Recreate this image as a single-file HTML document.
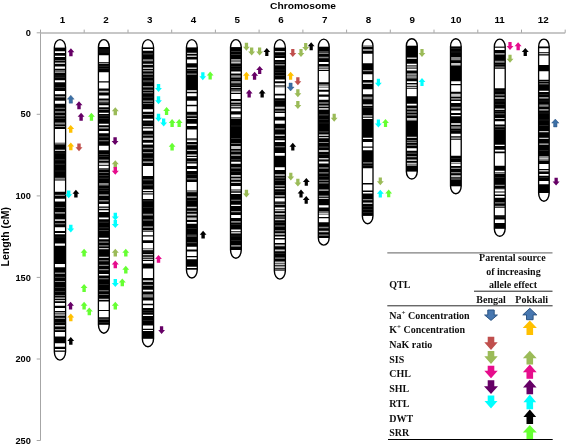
<!DOCTYPE html>
<html><head><meta charset="utf-8"><title>QTL map</title>
<style>html,body{margin:0;padding:0;background:#fff}svg{display:block}</style></head>
<body>
<svg width="567" height="445" viewBox="0 0 567 445">
<defs><filter id="bc" x="-20%" y="-5%" width="140%" height="110%"><feGaussianBlur stdDeviation="0.45"/></filter><filter id="ba" x="-5%" y="-5%" width="110%" height="110%"><feGaussianBlur stdDeviation="0.35"/></filter><filter id="bt" x="-5%" y="-5%" width="110%" height="110%"><feGaussianBlur stdDeviation="0.25"/></filter></defs>
<rect width="567" height="445" fill="#fff"/>
<g stroke="#a6a6a6" stroke-width="1" fill="none">
<line x1="40.5" y1="32.8" x2="40.5" y2="440.5"/>
<line x1="40.0" y1="32.9" x2="565.2" y2="32.9" stroke="#b4b4b4" stroke-width="1.5"/>
<line x1="40.5" y1="29.6" x2="40.5" y2="32.8"/>
<line x1="84.2" y1="29.6" x2="84.2" y2="32.8"/>
<line x1="128.0" y1="29.6" x2="128.0" y2="32.8"/>
<line x1="171.7" y1="29.6" x2="171.7" y2="32.8"/>
<line x1="215.4" y1="29.6" x2="215.4" y2="32.8"/>
<line x1="259.1" y1="29.6" x2="259.1" y2="32.8"/>
<line x1="302.9" y1="29.6" x2="302.9" y2="32.8"/>
<line x1="346.6" y1="29.6" x2="346.6" y2="32.8"/>
<line x1="390.3" y1="29.6" x2="390.3" y2="32.8"/>
<line x1="434.0" y1="29.6" x2="434.0" y2="32.8"/>
<line x1="477.8" y1="29.6" x2="477.8" y2="32.8"/>
<line x1="521.5" y1="29.6" x2="521.5" y2="32.8"/>
<line x1="565.2" y1="29.6" x2="565.2" y2="32.8"/>
<line x1="36.7" y1="32.8" x2="40.5" y2="32.8"/>
<line x1="36.7" y1="114.3" x2="40.5" y2="114.3"/>
<line x1="36.7" y1="195.9" x2="40.5" y2="195.9"/>
<line x1="36.7" y1="277.4" x2="40.5" y2="277.4"/>
<line x1="36.7" y1="359.0" x2="40.5" y2="359.0"/>
<line x1="36.7" y1="440.5" x2="40.5" y2="440.5"/>
</g>
<g font-family="'Liberation Sans', Arial, sans-serif" font-weight="bold" fill="#000" filter="url(#bt)">
<text x="303" y="8.8" font-size="9.8" text-anchor="middle" textLength="66" lengthAdjust="spacingAndGlyphs">Chromosome</text>
<text x="62.4" y="22.8" font-size="9.8" text-anchor="middle">1</text>
<text x="106.1" y="22.8" font-size="9.8" text-anchor="middle">2</text>
<text x="149.8" y="22.8" font-size="9.8" text-anchor="middle">3</text>
<text x="193.5" y="22.8" font-size="9.8" text-anchor="middle">4</text>
<text x="237.3" y="22.8" font-size="9.8" text-anchor="middle">5</text>
<text x="281.0" y="22.8" font-size="9.8" text-anchor="middle">6</text>
<text x="324.7" y="22.8" font-size="9.8" text-anchor="middle">7</text>
<text x="368.4" y="22.8" font-size="9.8" text-anchor="middle">8</text>
<text x="412.2" y="22.8" font-size="9.8" text-anchor="middle">9</text>
<text x="455.9" y="22.8" font-size="9.8" text-anchor="middle">10</text>
<text x="499.6" y="22.8" font-size="9.8" text-anchor="middle">11</text>
<text x="543.3" y="22.8" font-size="9.8" text-anchor="middle">12</text>
<text x="30.9" y="35.8" font-size="9.6" text-anchor="end" textLength="5.15" lengthAdjust="spacingAndGlyphs">0</text>
<text x="30.9" y="117.4" font-size="9.6" text-anchor="end" textLength="10.30" lengthAdjust="spacingAndGlyphs">50</text>
<text x="30.9" y="198.9" font-size="9.6" text-anchor="end" textLength="15.45" lengthAdjust="spacingAndGlyphs">100</text>
<text x="30.9" y="280.5" font-size="9.6" text-anchor="end" textLength="15.45" lengthAdjust="spacingAndGlyphs">150</text>
<text x="30.9" y="362.0" font-size="9.6" text-anchor="end" textLength="15.45" lengthAdjust="spacingAndGlyphs">200</text>
<text x="30.9" y="443.5" font-size="9.6" text-anchor="end" textLength="15.45" lengthAdjust="spacingAndGlyphs">250</text>
<text transform="translate(9.0,236.7) rotate(-90)" font-size="10.2" text-anchor="middle" textLength="59.5" lengthAdjust="spacingAndGlyphs">Length (cM)</text>
</g>
<g filter="url(#bc)">
<g>
<path d="M54.35,47.60 A5.60,8.00 0 0 1 65.55,47.60 L65.55,351.80 A5.60,8.30 0 0 1 54.35,351.80 Z" fill="#fff" stroke="#000" stroke-width="1.4"/>
<rect x="54.35" y="47.60" width="11.20" height="304.20" fill="#000"/>
<path fill="#ffffff" d="M54.95,51.14h10.00v1.76h-10.00zM54.95,55.80h10.00v1.26h-10.00zM54.95,66.49h10.00v2.27h-10.00zM54.95,80.34h10.00v1.89h-10.00zM54.95,91.03h10.00v3.15h-10.00zM54.95,100.85h10.00v3.02h-10.00zM54.95,129.04h10.00v12.96h-10.00zM54.95,149.80h10.00v1.01h-10.00zM54.95,180.38h10.00v11.33h-10.00zM54.95,198.63h10.00v2.89h-10.00zM54.95,227.20h10.00v3.78h-10.00zM54.95,232.98h10.00v1.26h-10.00zM54.95,243.56h10.00v2.27h-10.00zM54.95,264.07h10.00v3.15h-10.00zM54.95,303.08h10.00v2.77h-10.00zM54.95,308.11h10.00v1.89h-10.00zM54.95,310.00h10.00v1.01h-10.00zM54.95,332.02h10.00v4.40h-10.00zM54.95,343.35h10.00v3.40h-10.00zM54.95,349.01h10.00v1.51h-10.00z"/>
<path fill="#c4c4c4" d="M54.95,62.47h10.00v1.51h-10.00zM54.95,71.53h10.00v1.26h-10.00zM54.95,142.00h10.00v1.51h-10.00zM54.95,219.14h10.00v1.76h-10.00zM54.95,297.42h10.00v1.26h-10.00zM54.95,299.93h10.00v1.26h-10.00zM54.95,312.27h10.00v1.26h-10.00zM54.95,314.28h10.00v1.38h-10.00zM54.95,325.10h10.00v1.51h-10.00z"/>
<path fill="#858585" d="M54.95,59.95h10.00v0.88h-10.00zM54.95,70.27h10.00v1.01h-10.00zM54.95,96.07h10.00v1.51h-10.00zM54.95,107.64h10.00v1.01h-10.00zM54.95,111.17h10.00v1.51h-10.00zM54.95,115.20h10.00v1.01h-10.00zM54.95,122.49h10.00v1.89h-10.00zM54.95,126.02h10.00v1.01h-10.00zM54.95,143.51h10.00v1.01h-10.00zM54.95,177.87h10.00v1.89h-10.00zM54.95,194.85h10.00v1.26h-10.00zM54.95,212.09h10.00v1.64h-10.00zM54.95,223.17h10.00v1.01h-10.00zM54.95,272.62h10.00v1.26h-10.00zM54.95,281.06h10.00v0.88h-10.00zM54.95,294.90h10.00v0.88h-10.00zM54.95,317.80h10.00v1.26h-10.00zM54.95,328.88h10.00v1.26h-10.00z"/>
<path fill="#404040" d="M54.95,75.68h10.00v0.50h-10.00zM54.95,77.57h10.00v0.50h-10.00zM54.95,87.01h10.00v0.76h-10.00zM54.95,118.09h10.00v0.63h-10.00zM54.95,152.70h10.00v0.63h-10.00zM54.95,159.62h10.00v0.63h-10.00zM54.95,163.64h10.00v0.76h-10.00zM54.95,170.69h10.00v0.50h-10.00zM54.95,207.06h10.00v1.01h-10.00zM54.95,236.76h10.00v0.50h-10.00zM54.95,276.65h10.00v1.26h-10.00zM54.95,287.35h10.00v0.63h-10.00zM54.95,291.12h10.00v0.63h-10.00zM54.95,321.96h10.00v0.63h-10.00z"/>
</g>
<g>
<path d="M98.45,47.00 A5.40,7.40 0 0 1 109.25,47.00 L109.25,324.80 A5.40,8.40 0 0 1 98.45,324.80 Z" fill="#fff" stroke="#000" stroke-width="1.4"/>
<rect x="98.45" y="47.00" width="10.80" height="277.80" fill="#000"/>
<path fill="#ffffff" d="M99.05,55.17h9.60v6.92h-9.60zM99.05,72.16h9.60v9.19h-9.60zM99.05,82.60h9.60v3.40h-9.60zM99.05,86.00h9.60v2.52h-9.60zM99.05,95.44h9.60v3.15h-9.60zM99.05,105.13h9.60v2.01h-9.60zM99.05,112.68h9.60v1.26h-9.60zM99.05,123.75h9.60v1.51h-9.60zM99.05,131.05h9.60v2.14h-9.60zM99.05,145.78h9.60v4.40h-9.60zM99.05,165.91h9.60v2.27h-9.60zM99.05,204.04h9.60v2.52h-9.60zM99.05,210.21h9.60v1.89h-9.60zM99.05,217.51h9.60v1.64h-9.60zM99.05,237.77h9.60v1.51h-9.60zM99.05,273.88h9.60v1.51h-9.60zM99.05,301.57h9.60v8.43h-9.60zM99.05,311.01h9.60v6.29h-9.60z"/>
<path fill="#c4c4c4" d="M99.05,62.72h9.60v1.01h-9.60zM99.05,90.78h9.60v1.76h-9.60zM99.05,100.47h9.60v1.26h-9.60zM99.05,127.28h9.60v1.26h-9.60zM99.05,162.76h9.60v2.52h-9.60zM99.05,207.82h9.60v1.26h-9.60zM99.05,248.09h9.60v1.26h-9.60zM99.05,256.77h9.60v1.26h-9.60zM99.05,298.67h9.60v1.26h-9.60z"/>
<path fill="#858585" d="M99.05,102.61h9.60v0.76h-9.60zM99.05,109.28h9.60v0.63h-9.60zM99.05,140.36h9.60v1.01h-9.60zM99.05,153.96h9.60v0.63h-9.60zM99.05,159.62h9.60v1.26h-9.60zM99.05,168.68h9.60v0.76h-9.60zM99.05,171.95h9.60v0.88h-9.60zM99.05,182.90h9.60v2.52h-9.60zM99.05,194.22h9.60v1.89h-9.60zM99.05,199.89h9.60v1.64h-9.60zM99.05,241.42h9.60v1.26h-9.60zM99.05,245.19h9.60v1.26h-9.60zM99.05,260.29h9.60v1.01h-9.60zM99.05,264.70h9.60v1.26h-9.60zM99.05,269.10h9.60v1.26h-9.60zM99.05,278.16h9.60v1.01h-9.60zM99.05,290.24h9.60v1.01h-9.60zM99.05,294.27h9.60v0.76h-9.60zM99.05,318.81h9.60v0.63h-9.60z"/>
<path fill="#404040" d="M99.05,48.88h9.60v0.38h-9.60zM99.05,50.76h9.60v0.38h-9.60zM99.05,52.65h9.60v0.38h-9.60zM99.05,65.87h9.60v0.63h-9.60zM99.05,68.38h9.60v0.63h-9.60zM99.05,115.57h9.60v0.63h-9.60zM99.05,118.47h9.60v0.50h-9.60zM99.05,136.34h9.60v1.26h-9.60zM99.05,156.47h9.60v0.63h-9.60zM99.05,174.97h9.60v0.76h-9.60zM99.05,177.87h9.60v0.63h-9.60zM99.05,187.93h9.60v0.63h-9.60zM99.05,190.45h9.60v0.63h-9.60zM99.05,221.66h9.60v0.88h-9.60zM99.05,227.57h9.60v0.63h-9.60zM99.05,230.09h9.60v0.88h-9.60zM99.05,284.20h9.60v0.63h-9.60zM99.05,321.96h9.60v0.50h-9.60z"/>
</g>
<g>
<path d="M142.35,47.40 A5.60,7.80 0 0 1 153.55,47.40 L153.55,338.80 A5.60,7.90 0 0 1 142.35,338.80 Z" fill="#fff" stroke="#000" stroke-width="1.4"/>
<rect x="142.35" y="47.40" width="11.20" height="291.40" fill="#000"/>
<path fill="#ffffff" d="M142.95,48.88h10.00v1.89h-10.00zM142.95,109.28h10.00v2.52h-10.00zM142.95,118.72h10.00v1.89h-10.00zM142.95,128.53h10.00v2.14h-10.00zM142.95,142.63h10.00v1.89h-10.00zM142.95,165.91h10.00v10.07h-10.00zM142.95,189.57h10.00v1.51h-10.00zM142.95,194.60h10.00v3.40h-10.00zM142.95,198.00h10.00v1.01h-10.00zM142.95,231.73h10.00v3.40h-10.00zM142.95,236.38h10.00v3.78h-10.00zM142.95,243.05h10.00v5.29h-10.00zM142.95,260.92h10.00v2.52h-10.00zM142.95,268.47h10.00v9.44h-10.00zM142.95,289.87h10.00v1.64h-10.00zM142.95,300.56h10.00v3.15h-10.00zM142.95,305.34h10.00v2.77h-10.00zM142.95,314.85h10.00v1.26h-10.00zM142.95,325.55h10.00v3.15h-10.00zM142.95,329.95h10.00v1.01h-10.00z"/>
<path fill="#c4c4c4" d="M142.95,63.73h10.00v1.26h-10.00zM142.95,67.50h10.00v1.51h-10.00zM142.95,126.02h10.00v1.26h-10.00zM142.95,137.85h10.00v2.27h-10.00zM142.95,161.51h10.00v1.26h-10.00zM142.95,192.09h10.00v1.51h-10.00zM142.95,248.59h10.00v1.64h-10.00zM142.95,254.00h10.00v1.26h-10.00zM142.95,256.77h10.00v1.01h-10.00zM142.95,258.78h10.00v1.26h-10.00zM142.95,280.18h10.00v1.76h-10.00z"/>
<path fill="#858585" d="M142.95,59.20h10.00v2.01h-10.00zM142.95,70.02h10.00v1.51h-10.00zM142.95,73.42h10.00v1.26h-10.00zM142.95,86.00h10.00v1.51h-10.00zM142.95,89.78h10.00v1.01h-10.00zM142.95,92.29h10.00v1.01h-10.00zM142.95,100.47h10.00v1.26h-10.00zM142.95,102.99h10.00v0.88h-10.00zM142.95,113.94h10.00v1.01h-10.00zM142.95,134.45h10.00v1.26h-10.00zM142.95,147.66h10.00v1.64h-10.00zM142.95,152.07h10.00v1.26h-10.00zM142.95,213.73h10.00v1.89h-10.00zM142.95,219.39h10.00v1.01h-10.00zM142.95,226.31h10.00v1.64h-10.00zM142.95,230.09h10.00v1.26h-10.00zM142.95,284.83h10.00v1.26h-10.00zM142.95,294.27h10.00v3.15h-10.00z"/>
<path fill="#404040" d="M142.95,53.28h10.00v1.26h-10.00zM142.95,76.81h10.00v1.01h-10.00zM142.95,80.34h10.00v1.89h-10.00zM142.95,96.70h10.00v0.88h-10.00zM142.95,122.87h10.00v0.50h-10.00zM142.95,157.73h10.00v1.26h-10.00zM142.95,179.12h10.00v1.26h-10.00zM142.95,184.16h10.00v1.26h-10.00zM142.95,200.52h10.00v0.63h-10.00zM142.95,207.19h10.00v0.50h-10.00zM142.95,251.86h10.00v0.50h-10.00zM142.95,310.44h10.00v0.50h-10.00zM142.95,312.33h10.00v0.50h-10.00zM142.95,320.13h10.00v0.63h-10.00z"/>
</g>
<g>
<path d="M186.45,47.40 A5.40,7.80 0 0 1 197.25,47.40 L197.25,269.70 A5.40,8.30 0 0 1 186.45,269.70 Z" fill="#fff" stroke="#000" stroke-width="1.4"/>
<rect x="186.45" y="47.40" width="10.80" height="222.30" fill="#000"/>
<path fill="#ffffff" d="M187.05,59.57h9.60v3.78h-9.60zM187.05,90.15h9.60v1.51h-9.60zM187.05,93.17h9.60v3.15h-9.60zM187.05,100.85h9.60v3.78h-9.60zM187.05,106.13h9.60v5.66h-9.60zM187.05,123.75h9.60v2.27h-9.60zM187.05,129.42h9.60v8.81h-9.60zM187.05,140.36h9.60v1.64h-9.60zM187.05,154.58h9.60v1.26h-9.60zM187.05,157.10h9.60v1.26h-9.60zM187.05,163.39h9.60v2.52h-9.60zM187.05,169.06h9.60v1.89h-9.60zM187.05,182.02h9.60v8.43h-9.60zM187.05,221.91h9.60v1.89h-9.60zM187.05,246.83h9.60v2.77h-9.60zM187.05,251.48h9.60v2.52h-9.60zM187.05,254.00h9.60v1.89h-9.60zM187.05,257.15h9.60v2.14h-9.60zM187.05,266.84h9.60v1.26h-9.60z"/>
<path fill="#c4c4c4" d="M187.05,52.65h9.60v1.26h-9.60zM187.05,55.55h9.60v1.51h-9.60zM187.05,67.50h9.60v1.51h-9.60zM187.05,118.09h9.60v0.88h-9.60zM187.05,149.80h9.60v1.26h-9.60zM187.05,206.81h9.60v1.51h-9.60zM187.05,213.73h9.60v1.89h-9.60zM187.05,217.51h9.60v2.52h-9.60z"/>
<path fill="#858585" d="M187.05,73.42h9.60v1.26h-9.60zM187.05,114.69h9.60v1.51h-9.60zM187.05,138.60h9.60v0.88h-9.60zM187.05,143.89h9.60v1.26h-9.60zM187.05,161.13h9.60v1.01h-9.60zM187.05,178.24h9.60v1.26h-9.60zM187.05,190.45h9.60v1.89h-9.60zM187.05,196.36h9.60v1.64h-9.60zM187.05,210.84h9.60v1.26h-9.60z"/>
<path fill="#404040" d="M187.05,70.27h9.60v0.63h-9.60zM187.05,174.47h9.60v0.50h-9.60zM187.05,199.89h9.60v0.63h-9.60zM187.05,227.95h9.60v0.50h-9.60zM187.05,234.49h9.60v2.52h-9.60zM187.05,242.04h9.60v1.26h-9.60z"/>
</g>
<g>
<path d="M230.55,47.10 A5.35,7.50 0 0 1 241.25,47.10 L241.25,250.00 A5.35,8.30 0 0 1 230.55,250.00 Z" fill="#fff" stroke="#000" stroke-width="1.4"/>
<rect x="230.55" y="47.10" width="10.70" height="202.90" fill="#000"/>
<path fill="#ffffff" d="M231.15,71.49h9.50v2.01h-9.50zM231.15,86.97h9.50v0.88h-9.50zM231.15,93.89h9.50v5.03h-9.50zM231.15,108.61h9.50v2.52h-9.50zM231.15,114.40h9.50v2.77h-9.50zM231.15,161.84h9.50v1.89h-9.50zM231.15,186.00h9.50v2.89h-9.50zM231.15,192.67h9.50v1.26h-9.50zM231.15,204.63h9.50v1.26h-9.50zM231.15,215.07h9.50v3.02h-9.50zM231.15,229.55h9.50v1.76h-9.50z"/>
<path fill="#c4c4c4" d="M231.15,59.28h9.50v1.26h-9.50zM231.15,61.80h9.50v1.64h-9.50zM231.15,76.27h9.50v1.26h-9.50zM231.15,82.18h9.50v1.01h-9.50zM231.15,90.74h9.50v1.01h-9.50zM231.15,92.00h9.50v1.01h-9.50zM231.15,101.06h9.50v1.64h-9.50zM231.15,103.96h9.50v0.63h-9.50zM231.15,105.84h9.50v1.51h-9.50zM231.15,146.11h9.50v1.89h-9.50zM231.15,148.00h9.50v1.01h-9.50zM231.15,154.54h9.50v1.26h-9.50zM231.15,175.06h9.50v1.64h-9.50zM231.15,178.20h9.50v1.51h-9.50zM231.15,181.73h9.50v1.26h-9.50zM231.15,231.94h9.50v1.64h-9.50z"/>
<path fill="#858585" d="M231.15,60.54h9.50v1.26h-9.50zM231.15,75.26h9.50v0.76h-9.50zM231.15,81.05h9.50v0.88h-9.50zM231.15,89.48h9.50v0.88h-9.50zM231.15,117.42h9.50v1.64h-9.50zM231.15,142.97h9.50v0.88h-9.50zM231.15,150.52h9.50v1.26h-9.50zM231.15,167.13h9.50v1.26h-9.50zM231.15,188.90h9.50v2.52h-9.50zM231.15,199.85h9.50v1.01h-9.50zM231.15,210.92h9.50v1.26h-9.50zM231.15,220.99h9.50v1.64h-9.50zM231.15,244.90h9.50v1.89h-9.50z"/>
<path fill="#404040" d="M231.15,51.35h9.50v0.76h-9.50zM231.15,54.00h9.50v0.63h-9.50zM231.15,65.95h9.50v0.63h-9.50zM231.15,68.72h9.50v0.63h-9.50zM231.15,79.42h9.50v0.63h-9.50zM231.15,84.83h9.50v0.63h-9.50zM231.15,125.73h9.50v0.50h-9.50zM231.15,137.93h9.50v0.88h-9.50zM231.15,159.33h9.50v1.01h-9.50zM231.15,171.03h9.50v0.50h-9.50zM231.15,224.51h9.50v0.50h-9.50zM231.15,235.84h9.50v0.50h-9.50zM231.15,240.24h9.50v0.50h-9.50z"/>
</g>
<g>
<path d="M274.35,47.60 A5.50,8.00 0 0 1 285.35,47.60 L285.35,270.80 A5.50,8.30 0 0 1 274.35,270.80 Z" fill="#fff" stroke="#000" stroke-width="1.4"/>
<rect x="274.35" y="47.60" width="11.00" height="223.20" fill="#000"/>
<path fill="#ffffff" d="M274.95,58.02h9.80v1.89h-9.80zM274.95,79.42h9.80v1.89h-9.80zM274.95,83.19h9.80v1.89h-9.80zM274.95,87.26h9.80v6.54h-9.80zM274.95,95.44h9.80v2.89h-9.80zM274.95,113.06h9.80v3.78h-9.80zM274.95,120.61h9.80v3.15h-9.80zM274.95,140.36h9.80v1.64h-9.80zM274.95,153.03h9.80v2.77h-9.80zM274.95,167.13h9.80v2.89h-9.80zM274.95,198.34h9.80v3.15h-9.80zM274.95,207.52h9.80v1.76h-9.80zM274.95,236.47h9.80v1.51h-9.80zM274.95,239.49h9.80v3.52h-9.80z"/>
<path fill="#c4c4c4" d="M274.95,51.10h9.80v1.26h-9.80zM274.95,86.59h9.80v0.76h-9.80zM274.95,106.76h9.80v1.89h-9.80zM274.95,134.45h9.80v1.64h-9.80zM274.95,174.18h9.80v1.51h-9.80zM274.95,188.02h9.80v1.26h-9.80zM274.95,195.19h9.80v1.26h-9.80zM274.95,209.66h9.80v1.64h-9.80zM274.95,213.06h9.80v1.64h-9.80zM274.95,218.85h9.80v1.51h-9.80zM274.95,233.20h9.80v1.64h-9.80zM274.95,244.52h9.80v1.64h-9.80zM274.95,249.56h9.80v1.64h-9.80zM274.95,261.39h9.80v1.89h-9.80zM274.95,263.66h9.80v1.51h-9.80zM274.95,266.18h9.80v2.14h-9.80z"/>
<path fill="#858585" d="M274.95,63.94h9.80v1.64h-9.80zM274.95,85.33h9.80v1.01h-9.80zM274.95,110.54h9.80v1.26h-9.80zM274.95,128.16h9.80v1.26h-9.80zM274.95,146.36h9.80v1.01h-9.80zM274.95,177.57h9.80v0.63h-9.80zM274.95,185.12h9.80v1.26h-9.80zM274.95,202.74h9.80v0.63h-9.80zM274.95,204.00h9.80v1.01h-9.80zM274.95,216.58h9.80v1.01h-9.80zM274.95,225.39h9.80v1.01h-9.80zM274.95,230.18h9.80v1.01h-9.80zM274.95,257.48h9.80v1.26h-9.80zM274.95,269.20h9.80v1.26h-9.80z"/>
<path fill="#404040" d="M274.95,54.88h9.80v0.63h-9.80zM274.95,61.80h9.80v0.63h-9.80zM274.95,69.73h9.80v0.63h-9.80zM274.95,72.24h9.80v0.63h-9.80zM274.95,75.01h9.80v0.63h-9.80zM274.95,100.60h9.80v0.50h-9.80zM274.95,137.97h9.80v0.50h-9.80zM274.95,180.09h9.80v0.63h-9.80zM274.95,191.42h9.80v0.63h-9.80zM274.95,222.00h9.80v0.50h-9.80zM274.95,253.46h9.80v0.50h-9.80z"/>
</g>
<g>
<path d="M318.35,46.70 A5.40,7.60 0 0 1 329.15,46.70 L329.15,238.00 A5.40,7.10 0 0 1 318.35,238.00 Z" fill="#fff" stroke="#000" stroke-width="1.4"/>
<rect x="318.35" y="46.70" width="10.80" height="191.30" fill="#000"/>
<path fill="#ffffff" d="M318.95,62.09h9.60v1.89h-9.60zM318.95,70.90h9.60v11.33h-9.60zM318.95,87.51h9.60v2.27h-9.60zM318.95,91.66h9.60v2.89h-9.60zM318.95,96.70h9.60v3.15h-9.60zM318.95,134.45h9.60v1.26h-9.60zM318.95,150.18h9.60v1.64h-9.60zM318.95,161.51h9.60v1.89h-9.60zM318.95,205.30h9.60v2.14h-9.60zM318.95,214.61h9.60v2.27h-9.60zM318.95,218.13h9.60v4.03h-9.60z"/>
<path fill="#c4c4c4" d="M318.95,66.49h9.60v1.26h-9.60zM318.95,68.38h9.60v1.64h-9.60zM318.95,86.00h9.60v1.26h-9.60zM318.95,102.61h9.60v1.01h-9.60zM318.95,105.51h9.60v1.26h-9.60zM318.95,108.02h9.60v1.64h-9.60zM318.95,136.97h9.60v1.26h-9.60zM318.95,158.11h9.60v1.51h-9.60zM318.95,189.57h9.60v1.26h-9.60zM318.95,198.00h9.60v1.01h-9.60zM318.95,212.85h9.60v1.51h-9.60zM318.95,230.72h9.60v1.51h-9.60z"/>
<path fill="#858585" d="M318.95,51.39h9.60v1.01h-9.60zM318.95,52.90h9.60v1.01h-9.60zM318.95,56.68h9.60v1.64h-9.60zM318.95,84.36h9.60v1.64h-9.60zM318.95,142.00h9.60v1.01h-9.60zM318.95,167.17h9.60v1.51h-9.60zM318.95,172.20h9.60v1.26h-9.60zM318.95,179.75h9.60v1.01h-9.60zM318.95,182.27h9.60v1.26h-9.60zM318.95,195.48h9.60v1.89h-9.60zM318.95,211.21h9.60v1.64h-9.60zM318.95,226.69h9.60v1.51h-9.60zM318.95,234.49h9.60v1.26h-9.60z"/>
<path fill="#404040" d="M318.95,114.31h9.60v1.26h-9.60zM318.95,119.10h9.60v0.50h-9.60zM318.95,122.87h9.60v0.50h-9.60zM318.95,131.30h9.60v1.26h-9.60zM318.95,146.40h9.60v1.26h-9.60zM318.95,154.33h9.60v0.50h-9.60zM318.95,176.36h9.60v0.50h-9.60z"/>
</g>
<g>
<path d="M362.35,45.70 A5.30,6.60 0 0 1 372.95,45.70 L372.95,215.90 A5.30,7.80 0 0 1 362.35,215.90 Z" fill="#fff" stroke="#000" stroke-width="1.4"/>
<rect x="362.35" y="45.70" width="10.60" height="170.20" fill="#000"/>
<path fill="#ffffff" d="M362.95,53.66h9.40v9.69h-9.40zM362.95,74.30h9.40v5.79h-9.40zM362.95,89.15h9.40v5.03h-9.40zM362.95,117.71h9.40v1.26h-9.40zM362.95,137.85h9.40v1.26h-9.40zM362.95,142.00h9.40v4.40h-9.40zM362.95,147.66h9.40v2.52h-9.40zM362.95,168.18h9.40v14.72h-9.40zM362.95,184.53h9.40v5.91h-9.40zM362.95,192.09h9.40v1.51h-9.40z"/>
<path fill="#c4c4c4" d="M362.95,49.13h9.40v1.64h-9.40zM362.95,82.60h9.40v1.51h-9.40zM362.95,104.25h9.40v1.64h-9.40zM362.95,115.20h9.40v1.64h-9.40zM362.95,202.40h9.40v1.64h-9.40z"/>
<path fill="#858585" d="M362.95,45.73h9.40v1.26h-9.40zM362.95,70.02h9.40v1.26h-9.40zM362.95,96.70h9.40v2.52h-9.40zM362.95,162.13h9.40v1.26h-9.40zM362.95,199.01h9.40v1.26h-9.40z"/>
<path fill="#404040" d="M362.95,107.14h9.40v0.50h-9.40zM362.95,165.03h9.40v0.50h-9.40zM362.95,205.93h9.40v0.50h-9.40zM362.95,209.07h9.40v0.50h-9.40zM362.95,212.22h9.40v0.50h-9.40z"/>
</g>
<g>
<path d="M406.35,45.70 A5.45,7.00 0 0 1 417.25,45.70 L417.25,171.60 A5.45,7.40 0 0 1 406.35,171.60 Z" fill="#fff" stroke="#000" stroke-width="1.4"/>
<rect x="406.35" y="45.70" width="10.90" height="125.90" fill="#000"/>
<path fill="#ffffff" d="M406.95,63.73h9.70v1.51h-9.70zM406.95,68.76h9.70v1.76h-9.70zM406.95,81.34h9.70v1.76h-9.70zM406.95,88.77h9.70v7.55h-9.70zM406.95,103.87h9.70v1.64h-9.70zM406.95,148.29h9.70v2.52h-9.70zM406.95,164.40h9.70v1.01h-9.70z"/>
<path fill="#c4c4c4" d="M406.95,57.43h9.70v1.51h-9.70zM406.95,73.42h9.70v1.26h-9.70zM406.95,84.36h9.70v1.64h-9.70zM406.95,86.63h9.70v1.26h-9.70zM406.95,118.09h9.70v2.52h-9.70zM406.95,136.71h9.70v1.26h-9.70zM406.95,159.62h9.70v1.26h-9.70zM406.95,162.76h9.70v1.26h-9.70z"/>
<path fill="#858585" d="M406.95,65.49h9.70v2.89h-9.70zM406.95,75.30h9.70v3.15h-9.70zM406.95,108.02h9.70v1.64h-9.70zM406.95,111.17h9.70v1.51h-9.70zM406.95,114.31h9.70v1.26h-9.70zM406.95,140.36h9.70v1.01h-9.70zM406.95,142.00h9.70v1.01h-9.70zM406.95,144.77h9.70v1.01h-9.70zM406.95,152.70h9.70v0.88h-9.70zM406.95,156.09h9.70v1.26h-9.70z"/>
</g>
<g>
<path d="M450.55,46.40 A5.30,7.70 0 0 1 461.15,46.40 L461.15,186.30 A5.30,7.40 0 0 1 450.55,186.30 Z" fill="#fff" stroke="#000" stroke-width="1.4"/>
<rect x="450.55" y="46.40" width="10.60" height="139.90" fill="#000"/>
<path fill="#ffffff" d="M451.15,81.34h9.40v2.77h-9.40zM451.15,85.37h9.40v0.63h-9.40zM451.15,86.00h9.40v5.66h-9.40zM451.15,101.10h9.40v1.89h-9.40zM451.15,110.54h9.40v2.52h-9.40zM451.15,114.94h9.40v1.26h-9.40zM451.15,133.82h9.40v2.52h-9.40zM451.15,139.86h9.40v2.14h-9.40zM451.15,142.00h9.40v13.84h-9.40zM451.15,163.64h9.40v2.27h-9.40z"/>
<path fill="#c4c4c4" d="M451.15,62.97h9.40v2.52h-9.40zM451.15,93.80h9.40v2.89h-9.40zM451.15,123.12h9.40v1.89h-9.40zM451.15,137.60h9.40v1.26h-9.40zM451.15,161.88h9.40v1.51h-9.40zM451.15,175.35h9.40v1.89h-9.40z"/>
<path fill="#858585" d="M451.15,57.06h9.40v3.15h-9.40zM451.15,97.96h9.40v1.89h-9.40zM451.15,106.76h9.40v1.64h-9.40zM451.15,126.27h9.40v2.52h-9.40zM451.15,167.80h9.40v1.26h-9.40zM451.15,171.95h9.40v1.26h-9.40zM451.15,178.49h9.40v1.01h-9.40z"/>
<path fill="#404040" d="M451.15,48.62h9.40v0.50h-9.40zM451.15,51.77h9.40v0.50h-9.40zM451.15,130.42h9.40v0.50h-9.40zM451.15,158.11h9.40v0.50h-9.40z"/>
</g>
<g>
<path d="M494.35,46.60 A5.40,7.50 0 0 1 505.15,46.60 L505.15,228.80 A5.40,7.50 0 0 1 494.35,228.80 Z" fill="#fff" stroke="#000" stroke-width="1.4"/>
<rect x="494.35" y="46.60" width="10.80" height="182.20" fill="#000"/>
<path fill="#ffffff" d="M494.95,47.87h9.60v2.01h-9.60zM494.95,68.76h9.60v17.24h-9.60zM494.95,86.00h9.60v2.27h-9.60zM494.95,121.24h9.60v3.15h-9.60zM494.95,144.77h9.60v1.26h-9.60zM494.95,149.80h9.60v1.64h-9.60zM494.95,153.33h9.60v12.33h-9.60zM494.95,170.69h9.60v1.51h-9.60zM494.95,190.00h9.60v1.51h-9.60zM494.95,192.52h9.60v1.89h-9.60zM494.95,196.04h9.60v1.76h-9.60zM494.95,207.87h9.60v7.30h-9.60zM494.95,219.57h9.60v3.40h-9.60z"/>
<path fill="#c4c4c4" d="M494.95,53.28h9.60v1.26h-9.60zM494.95,97.33h9.60v1.51h-9.60zM494.95,108.40h9.60v1.51h-9.60zM494.95,118.09h9.60v0.88h-9.60zM494.95,188.81h9.60v1.26h-9.60z"/>
<path fill="#858585" d="M494.95,60.83h9.60v1.89h-9.60zM494.95,66.49h9.60v1.26h-9.60zM494.95,94.18h9.60v1.26h-9.60zM494.95,113.43h9.60v0.88h-9.60zM494.95,126.27h9.60v1.01h-9.60zM494.95,172.45h9.60v1.64h-9.60zM494.95,184.79h9.60v1.26h-9.60zM494.95,202.33h9.60v1.26h-9.60zM494.95,205.73h9.60v1.26h-9.60z"/>
<path fill="#404040" d="M494.95,64.36h9.60v0.50h-9.60zM494.95,90.78h9.60v0.50h-9.60zM494.95,100.85h9.60v0.50h-9.60zM494.95,104.62h9.60v0.50h-9.60zM494.95,111.55h9.60v0.50h-9.60zM494.95,129.16h9.60v0.50h-9.60zM494.95,177.61h9.60v0.50h-9.60zM494.95,216.80h9.60v0.50h-9.60z"/>
</g>
<g>
<path d="M538.65,46.50 A5.25,7.40 0 0 1 549.15,46.50 L549.15,193.00 A5.25,8.20 0 0 1 538.65,193.00 Z" fill="#fff" stroke="#000" stroke-width="1.4"/>
<rect x="538.65" y="46.50" width="10.50" height="146.50" fill="#000"/>
<path fill="#ffffff" d="M539.25,48.25h9.30v3.78h-9.30zM539.25,55.55h9.30v9.44h-9.30zM539.25,71.28h9.30v8.43h-9.30zM539.25,90.78h9.30v1.26h-9.30zM539.25,164.02h9.30v5.03h-9.30zM539.25,174.09h9.30v1.64h-9.30zM539.25,181.01h9.30v3.15h-9.30z"/>
<path fill="#c4c4c4" d="M539.25,52.65h9.30v1.51h-9.30zM539.25,83.48h9.30v0.88h-9.30zM539.25,97.33h9.30v1.26h-9.30zM539.25,109.28h9.30v1.26h-9.30zM539.25,131.05h9.30v1.26h-9.30zM539.25,137.85h9.30v1.26h-9.30zM539.25,143.51h9.30v1.26h-9.30zM539.25,157.35h9.30v1.64h-9.30zM539.25,169.94h9.30v1.64h-9.30z"/>
<path fill="#858585" d="M539.25,80.97h9.30v0.88h-9.30zM539.25,104.62h9.30v2.14h-9.30zM539.25,156.09h9.30v1.26h-9.30zM539.25,158.99h9.30v1.64h-9.30z"/>
<path fill="#404040" d="M539.25,93.93h9.30v0.50h-9.30zM539.25,100.85h9.30v0.50h-9.30zM539.25,112.80h9.30v0.50h-9.30zM539.25,119.73h9.30v0.50h-9.30zM539.25,125.39h9.30v0.50h-9.30zM539.25,149.93h9.30v0.50h-9.30zM539.25,177.61h9.30v0.50h-9.30z"/>
</g>
</g>
<g filter="url(#ba)">
<polygon fill="#660066" points="70.9,48.2 74.4,52.2 72.6,52.2 72.6,56.2 69.2,56.2 69.2,52.2 67.5,52.2"/>
<polygon fill="#3B6FA6" stroke="#2E5580" stroke-width="0.4" points="70.8,95.2 74.2,99.2 72.5,99.2 72.5,103.2 69.1,103.2 69.1,99.2 67.3,99.2"/>
<polygon fill="#660066" points="79.0,101.3 82.5,105.3 80.7,105.3 80.7,109.2 77.3,109.2 77.3,105.3 75.5,105.3"/>
<polygon fill="#660066" points="81.1,112.8 84.5,116.8 82.8,116.8 82.8,120.8 79.4,120.8 79.4,116.8 77.6,116.8"/>
<polygon fill="#66FF33" points="91.4,112.8 94.9,116.8 93.1,116.8 93.1,120.7 89.8,120.7 89.8,116.8 88.0,116.8"/>
<polygon fill="#FFC000" points="70.7,125.0 74.2,128.9 72.4,128.9 72.4,132.8 69.0,132.8 69.0,128.9 67.2,128.9"/>
<polygon fill="#FFC000" points="70.8,142.5 74.2,146.5 72.5,146.5 72.5,150.3 69.1,150.3 69.1,146.5 67.3,146.5"/>
<polygon fill="#C0504D" points="79.0,151.2 82.5,147.2 80.7,147.2 80.7,143.4 77.3,143.4 77.3,147.2 75.5,147.2"/>
<polygon fill="#00FFFF" points="68.7,198.3 72.2,194.3 70.4,194.3 70.4,190.5 67.0,190.5 67.0,194.3 65.2,194.3"/>
<polygon fill="#000000" points="75.9,189.7 79.4,193.7 77.6,193.7 77.6,197.5 74.2,197.5 74.2,193.7 72.5,193.7"/>
<polygon fill="#00FFFF" points="70.8,232.5 74.2,228.5 72.5,228.5 72.5,224.7 69.1,224.7 69.1,228.5 67.3,228.5"/>
<polygon fill="#66FF33" points="84.1,248.7 87.5,252.7 85.8,252.7 85.8,256.6 82.4,256.6 82.4,252.7 80.6,252.7"/>
<polygon fill="#66FF33" points="84.1,284.1 87.5,288.1 85.8,288.1 85.8,291.9 82.4,291.9 82.4,288.1 80.6,288.1"/>
<polygon fill="#660066" points="70.6,301.7 74.0,305.7 72.2,305.7 72.2,309.6 68.9,309.6 68.9,305.7 67.1,305.7"/>
<polygon fill="#66FF33" points="84.1,301.7 87.5,305.7 85.8,305.7 85.8,309.6 82.4,309.6 82.4,305.7 80.6,305.7"/>
<polygon fill="#66FF33" points="89.3,307.4 92.8,311.4 91.0,311.4 91.0,315.3 87.6,315.3 87.6,311.4 85.8,311.4"/>
<polygon fill="#FFC000" points="70.8,313.4 74.2,317.4 72.5,317.4 72.5,321.3 69.1,321.3 69.1,317.4 67.3,317.4"/>
<polygon fill="#000000" points="70.8,336.9 74.2,340.9 72.5,340.9 72.5,344.8 69.1,344.8 69.1,340.9 67.3,340.9"/>
<polygon fill="#9BBB59" points="115.3,107.2 118.8,111.2 117.0,111.2 117.0,115.2 113.6,115.2 113.6,111.2 111.8,111.2"/>
<polygon fill="#660066" points="115.1,145.1 118.5,141.1 116.8,141.1 116.8,137.2 113.4,137.2 113.4,141.1 111.6,141.1"/>
<polygon fill="#9BBB59" points="115.3,160.2 118.8,164.2 117.0,164.2 117.0,168.1 113.6,168.1 113.6,164.2 111.8,164.2"/>
<polygon fill="#E6088C" points="115.3,174.8 118.8,170.8 117.0,170.8 117.0,166.9 113.6,166.9 113.6,170.8 111.8,170.8"/>
<polygon fill="#00FFFF" points="115.3,220.5 118.8,216.5 117.0,216.5 117.0,212.7 113.6,212.7 113.6,216.5 111.8,216.5"/>
<polygon fill="#00FFFF" points="115.3,227.9 118.8,223.9 117.0,223.9 117.0,220.1 113.6,220.1 113.6,223.9 111.8,223.9"/>
<polygon fill="#9BBB59" points="115.3,248.7 118.8,252.7 117.0,252.7 117.0,256.6 113.6,256.6 113.6,252.7 111.8,252.7"/>
<polygon fill="#66FF33" points="125.8,248.7 129.2,252.7 127.5,252.7 127.5,256.6 124.1,256.6 124.1,252.7 122.3,252.7"/>
<polygon fill="#E6088C" points="115.3,260.4 118.8,264.4 117.0,264.4 117.0,268.2 113.6,268.2 113.6,264.4 111.8,264.4"/>
<polygon fill="#66FF33" points="125.8,265.7 129.2,269.7 127.5,269.7 127.5,273.6 124.1,273.6 124.1,269.7 122.3,269.7"/>
<polygon fill="#00FFFF" points="115.3,286.9 118.8,282.9 117.0,282.9 117.0,279.1 113.6,279.1 113.6,282.9 111.8,282.9"/>
<polygon fill="#66FF33" points="122.3,278.4 125.8,282.4 124.0,282.4 124.0,286.3 120.6,286.3 120.6,282.4 118.8,282.4"/>
<polygon fill="#66FF33" points="115.3,301.7 118.8,305.7 117.0,305.7 117.0,309.6 113.6,309.6 113.6,305.7 111.8,305.7"/>
<polygon fill="#00FFFF" points="158.5,92.0 161.9,88.0 160.2,88.0 160.2,84.0 156.8,84.0 156.8,88.0 155.1,88.0"/>
<polygon fill="#00FFFF" points="158.5,104.2 161.9,100.2 160.2,100.2 160.2,96.2 156.8,96.2 156.8,100.2 155.1,100.2"/>
<polygon fill="#66FF33" points="166.6,107.0 170.0,111.0 168.2,111.0 168.2,114.9 164.9,114.9 164.9,111.0 163.2,111.0"/>
<polygon fill="#00FFFF" points="158.5,121.8 161.9,117.8 160.2,117.8 160.2,113.8 156.8,113.8 156.8,117.8 155.1,117.8"/>
<polygon fill="#00FFFF" points="163.7,126.5 167.1,122.5 165.3,122.5 165.3,118.5 162.0,118.5 162.0,122.5 160.2,122.5"/>
<polygon fill="#66FF33" points="172.1,119.0 175.5,123.0 173.8,123.0 173.8,126.9 170.4,126.9 170.4,123.0 168.7,123.0"/>
<polygon fill="#66FF33" points="179.2,119.0 182.6,123.0 180.8,123.0 180.8,126.9 177.5,126.9 177.5,123.0 175.8,123.0"/>
<polygon fill="#66FF33" points="172.1,142.7 175.5,146.7 173.8,146.7 173.8,150.5 170.4,150.5 170.4,146.7 168.7,146.7"/>
<polygon fill="#E6088C" points="158.5,254.9 161.9,258.9 160.2,258.9 160.2,262.8 156.8,262.8 156.8,258.9 155.1,258.9"/>
<polygon fill="#660066" points="161.6,334.1 165.0,330.1 163.2,330.1 163.2,326.2 159.9,326.2 159.9,330.1 158.2,330.1"/>
<polygon fill="#00FFFF" points="202.8,80.2 206.2,76.2 204.5,76.2 204.5,72.3 201.2,72.3 201.2,76.2 199.4,76.2"/>
<polygon fill="#66FF33" points="210.2,71.6 213.6,75.6 211.8,75.6 211.8,79.5 208.5,79.5 208.5,75.6 206.8,75.6"/>
<polygon fill="#000000" points="203.1,230.8 206.5,234.8 204.8,234.8 204.8,238.6 201.4,238.6 201.4,234.8 199.7,234.8"/>
<polygon fill="#9BBB59" points="246.4,50.8 249.8,46.8 248.1,46.8 248.1,42.8 244.8,42.8 244.8,46.8 243.0,46.8"/>
<polygon fill="#9BBB59" points="251.7,55.4 255.1,51.4 253.3,51.4 253.3,47.4 250.0,47.4 250.0,51.4 248.2,51.4"/>
<polygon fill="#9BBB59" points="259.6,55.4 263.1,51.4 261.2,51.4 261.2,47.4 258.0,47.4 258.0,51.4 256.2,51.4"/>
<polygon fill="#000000" points="266.8,48.0 270.2,52.0 268.4,52.0 268.4,56.0 265.2,56.0 265.2,52.0 263.4,52.0"/>
<polygon fill="#FFC000" points="246.4,71.8 249.8,75.8 248.1,75.8 248.1,79.8 244.8,79.8 244.8,75.8 243.0,75.8"/>
<polygon fill="#660066" points="254.6,71.8 258.1,75.8 256.2,75.8 256.2,79.8 252.9,79.8 252.9,75.8 251.2,75.8"/>
<polygon fill="#660066" points="259.7,66.0 263.1,70.0 261.3,70.0 261.3,73.9 258.1,73.9 258.1,70.0 256.2,70.0"/>
<polygon fill="#660066" points="249.2,89.5 252.6,93.5 250.8,93.5 250.8,97.4 247.5,97.4 247.5,93.5 245.8,93.5"/>
<polygon fill="#000000" points="262.1,89.5 265.6,93.5 263.8,93.5 263.8,97.4 260.5,97.4 260.5,93.5 258.7,93.5"/>
<polygon fill="#9BBB59" points="246.4,197.5 249.8,193.5 248.1,193.5 248.1,189.7 244.8,189.7 244.8,193.5 243.0,193.5"/>
<polygon fill="#C0504D" points="292.8,57.0 296.2,53.0 294.4,53.0 294.4,49.0 291.2,49.0 291.2,53.0 289.4,53.0"/>
<polygon fill="#9BBB59" points="301.0,57.0 304.4,53.0 302.6,53.0 302.6,49.0 299.4,49.0 299.4,53.0 297.6,53.0"/>
<polygon fill="#9BBB59" points="305.7,51.0 309.1,47.0 307.3,47.0 307.3,43.0 304.1,43.0 304.1,47.0 302.2,47.0"/>
<polygon fill="#000000" points="311.2,42.2 314.6,46.2 312.8,46.2 312.8,50.2 309.6,50.2 309.6,46.2 307.8,46.2"/>
<polygon fill="#FFC000" points="290.6,71.8 294.1,75.8 292.2,75.8 292.2,79.8 289.0,79.8 289.0,75.8 287.2,75.8"/>
<polygon fill="#C0504D" points="297.9,85.2 301.3,81.2 299.5,81.2 299.5,77.3 296.2,77.3 296.2,81.2 294.4,81.2"/>
<polygon fill="#3B6FA6" stroke="#2E5580" stroke-width="0.4" points="290.6,91.0 294.1,87.0 292.2,87.0 292.2,83.0 289.0,83.0 289.0,87.0 287.2,87.0"/>
<polygon fill="#9BBB59" points="297.9,97.2 301.3,93.2 299.5,93.2 299.5,89.2 296.2,89.2 296.2,93.2 294.4,93.2"/>
<polygon fill="#9BBB59" points="297.9,108.9 301.3,104.9 299.5,104.9 299.5,101.0 296.2,101.0 296.2,104.9 294.4,104.9"/>
<polygon fill="#000000" points="292.8,142.7 296.2,146.7 294.4,146.7 294.4,150.5 291.2,150.5 291.2,146.7 289.4,146.7"/>
<polygon fill="#9BBB59" points="290.8,180.5 294.2,176.5 292.4,176.5 292.4,172.7 289.2,172.7 289.2,176.5 287.4,176.5"/>
<polygon fill="#9BBB59" points="297.9,186.5 301.3,182.5 299.5,182.5 299.5,178.7 296.2,178.7 296.2,182.5 294.4,182.5"/>
<polygon fill="#000000" points="306.3,177.9 309.8,181.9 307.9,181.9 307.9,185.8 304.7,185.8 304.7,181.9 302.9,181.9"/>
<polygon fill="#000000" points="301.0,189.6 304.4,193.6 302.6,193.6 302.6,197.4 299.4,197.4 299.4,193.6 297.6,193.6"/>
<polygon fill="#000000" points="306.2,195.9 309.6,199.9 307.8,199.9 307.8,203.8 304.6,203.8 304.6,199.9 302.8,199.9"/>
<polygon fill="#9BBB59" points="334.2,121.8 337.6,117.8 335.8,117.8 335.8,113.8 332.6,113.8 332.6,117.8 330.8,117.8"/>
<polygon fill="#00FFFF" points="378.4,86.8 381.8,82.8 380.0,82.8 380.0,78.8 376.8,78.8 376.8,82.8 374.9,82.8"/>
<polygon fill="#00FFFF" points="378.4,127.5 381.8,123.5 380.0,123.5 380.0,119.6 376.8,119.6 376.8,123.5 374.9,123.5"/>
<polygon fill="#66FF33" points="385.5,119.0 388.9,123.0 387.1,123.0 387.1,127.0 383.9,127.0 383.9,123.0 382.1,123.0"/>
<polygon fill="#9BBB59" points="380.3,185.2 383.8,181.2 381.9,181.2 381.9,177.4 378.7,177.4 378.7,181.2 376.9,181.2"/>
<polygon fill="#00FFFF" points="380.3,189.7 383.8,193.7 381.9,193.7 381.9,197.5 378.7,197.5 378.7,193.7 376.9,193.7"/>
<polygon fill="#66FF33" points="388.7,189.5 392.1,193.5 390.3,193.5 390.3,197.3 387.1,197.3 387.1,193.5 385.2,193.5"/>
<polygon fill="#9BBB59" points="422.0,57.0 425.4,53.0 423.6,53.0 423.6,49.0 420.4,49.0 420.4,53.0 418.6,53.0"/>
<polygon fill="#00FFFF" points="422.0,78.0 425.4,82.0 423.6,82.0 423.6,85.9 420.4,85.9 420.4,82.0 418.6,82.0"/>
<polygon fill="#E6088C" points="510.0,49.9 513.5,45.9 511.6,45.9 511.6,41.9 508.4,41.9 508.4,45.9 506.6,45.9"/>
<polygon fill="#E6088C" points="518.1,42.2 521.6,46.2 519.8,46.2 519.8,50.2 516.5,50.2 516.5,46.2 514.6,46.2"/>
<polygon fill="#000000" points="525.3,48.0 528.8,52.0 526.9,52.0 526.9,56.0 523.6,56.0 523.6,52.0 521.8,52.0"/>
<polygon fill="#9BBB59" points="510.0,62.8 513.5,58.8 511.6,58.8 511.6,54.8 508.4,54.8 508.4,58.8 506.6,58.8"/>
<polygon fill="#3B6FA6" stroke="#2E5580" stroke-width="0.5" points="555.3,119.1 558.9,123.1 557.0,123.1 557.0,126.9 553.6,126.9 553.6,123.1 551.7,123.1"/>
<polygon fill="#660066" points="556.1,185.5 559.6,181.5 557.8,181.5 557.8,177.7 554.5,177.7 554.5,181.5 552.6,181.5"/>
</g>
<g>
<line x1="387.3" y1="252.9" x2="552.5" y2="252.9" stroke="#7f7f7f" stroke-width="1.2"/>
<line x1="474" y1="291.2" x2="552.5" y2="291.2" stroke="#222" stroke-width="1"/>
<line x1="387.3" y1="305.8" x2="552.6" y2="305.8" stroke="#2a2a2a" stroke-width="1.0"/>
<line x1="388" y1="439.4" x2="552.7" y2="439.4" stroke="#000" stroke-width="1.05"/>
</g>
<g font-family="'Liberation Serif', 'Times New Roman', serif" font-weight="bold" font-size="10" fill="#111" filter="url(#bt)">
<text x="512.4" y="261.2" text-anchor="middle">Parental source</text>
<text x="513.4" y="275" text-anchor="middle">of increasing</text>
<text x="513" y="287.6" text-anchor="middle">allele effect</text>
<text x="389.2" y="288.0">QTL</text>
<text x="491.1" y="302.8" text-anchor="middle">Bengal</text>
<text x="531.7" y="302.8" text-anchor="middle">Pokkali</text>
<text x="389.2" y="318.6">Na<tspan dy="-4.0" font-size="7">+</tspan><tspan dy="4.0"> Concentration</tspan></text>
<text x="389.2" y="333.0">K<tspan dy="-4.0" font-size="7">+</tspan><tspan dy="4.0"> Concentration</tspan></text>
<text x="389.2" y="347.9">NaK ratio</text>
<text x="389.2" y="362.8">SIS</text>
<text x="389.2" y="377.3">CHL</text>
<text x="389.2" y="391.8">SHL</text>
<text x="389.2" y="407.0">RTL</text>
<text x="389.2" y="421.5">DWT</text>
<text x="389.2" y="436.3">SRR</text>
</g>
<g filter="url(#ba)">
<polygon fill="#4677B0" stroke="#2D5583" stroke-width="1" stroke-linejoin="miter" points="491.0,320.4 497.4,315.0 494.2,315.0 494.2,310.0 487.8,310.0 487.8,315.0 484.6,315.0"/>
<polygon fill="#4677B0" stroke="#2D5583" stroke-width="1" stroke-linejoin="miter" points="529.8,308.3 536.8,314.9 533.1,314.9 533.1,319.7 526.5,319.7 526.5,314.9 522.8,314.9"/>
<polygon fill="#FFC000" points="529.8,320.5 536.9,328.1 533.1,328.1 533.1,334.9 526.5,334.9 526.5,328.1 522.7,328.1"/>
<polygon fill="#C0504D" points="491.0,349.9 497.7,342.3 494.3,342.3 494.3,336.7 487.7,336.7 487.7,342.3 484.3,342.3"/>
<polygon fill="#9BBB59" points="491.0,363.9 497.7,356.3 494.3,356.3 494.3,350.9 487.7,350.9 487.7,356.3 484.3,356.3"/>
<polygon fill="#9BBB59" points="529.8,350.7 536.7,358.3 533.1,358.3 533.1,364.5 526.5,364.5 526.5,358.3 522.9,358.3"/>
<polygon fill="#E6088C" points="491.0,378.3 497.7,370.7 494.3,370.7 494.3,365.7 487.7,365.7 487.7,370.7 484.3,370.7"/>
<polygon fill="#E6088C" points="529.8,364.6 536.7,372.2 533.1,372.2 533.1,378.8 526.5,378.8 526.5,372.2 522.9,372.2"/>
<polygon fill="#660066" points="491.0,393.9 498.0,386.3 494.3,386.3 494.3,380.3 487.7,380.3 487.7,386.3 484.0,386.3"/>
<polygon fill="#660066" points="529.8,379.8 536.6,387.4 533.1,387.4 533.1,394.2 526.5,394.2 526.5,387.4 523.0,387.4"/>
<polygon fill="#00FFFF" points="491.0,408.5 497.5,400.9 494.3,400.9 494.3,395.5 487.7,395.5 487.7,400.9 484.5,400.9"/>
<polygon fill="#00FFFF" points="529.8,394.6 536.2,402.2 533.1,402.2 533.1,409.2 526.5,409.2 526.5,402.2 523.4,402.2"/>
<polygon fill="#000000" points="529.8,409.4 536.2,417.0 533.1,417.0 533.1,424.0 526.5,424.0 526.5,417.0 523.4,417.0"/>
<polygon fill="#66FF33" points="529.8,424.9 536.8,432.5 533.1,432.5 533.1,438.9 526.5,438.9 526.5,432.5 522.8,432.5"/>
</g>
</svg>
</body></html>
